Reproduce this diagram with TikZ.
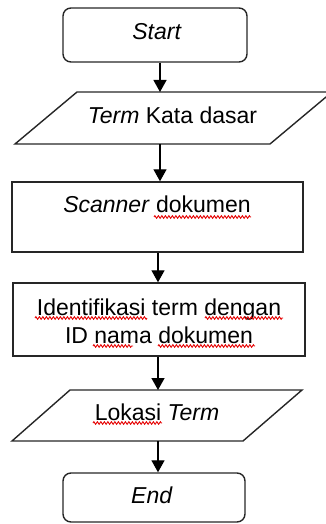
\documentclass[tikz,border=0pt]{standalone}
\usepackage{fontspec}
\setmainfont{Liberation Sans}
\usetikzlibrary{arrows.meta,decorations.pathmorphing}

\tikzset{
  shapeline/.style={draw=black!85, line width=1.4pt},
  termbox/.style={shapeline, rounded corners=8pt},
  procbox/.style={shapeline},
  io/.style={shapeline},
  label/.style={inner sep=0pt, font=\fontsize{23}{28}\selectfont, align=center},
  flow/.style={line width=1.3pt, -{Triangle[length=12pt,width=13pt]}},
  spell/.style={draw=red!90!black, line width=0.9pt,
    decorate, decoration={zigzag, segment length=3.5pt, amplitude=1.3pt}},
}

\begin{document}
\begin{tikzpicture}[x=1pt, y=-1pt]
\useasboundingbox (0,0) rectangle (326,524);
\clip (0,0) rectangle (326,524);

% terminators and process boxes
\node[termbox, minimum width=184pt, minimum height=54pt] (start) at (155,35) {};
\node[procbox, minimum width=291pt, minimum height=70pt] (scan) at (157.5,217) {};
\node[procbox, minimum width=292pt, minimum height=73pt] (ident) at (159,319.5) {};
\node[termbox, minimum width=182pt, minimum height=49pt] (end) at (154,497.5) {};

% input / output parallelograms
\draw[io] (15,144) -- (270,144) -- (332,92) -- (77,92) -- cycle;
\coordinate (in1n) at (160,92);
\coordinate (in1s) at (160,144);
\draw[io] (12,441) -- (243,441) -- (302,390) -- (70,390) -- cycle;
\coordinate (outn) at (158,390);
\coordinate (outs) at (158,441);

% texts
\node[label, anchor=base] (starttxt) at (157,40) {\textit{Start}};
\node[label, anchor=base] (in1txt) at (172.5,124) {\textit{Term} Kata dasar};
\node[label, anchor=base] (scantxt) at (157,212) {\textit{Scanner} dokumen};
\node[label] (identtxt) at (159,321.5) {Identifikasi term dengan\\ID nama dokumen};
\node[label, anchor=base] (outtxt) at (157,420) {Lokasi \textit{Term}};
\node[label, anchor=base] (endtxt) at (152,503) {\textit{End}};

% connectors
\draw[flow] (start.south -| in1n) -- (in1n);
\draw[flow] (in1s) -- (scan.north -| in1s);
\draw[flow] (scan.south -| outn) -- (ident.north -| outn);
\draw[flow] (ident.south -| outn) -- (outn);
\draw[flow] (outs) -- (end.north -| outs);

% spell-check marks under words
\draw[spell] (154,217) -- (251,217);
\draw[spell] (35,318) -- (147,318);
\draw[spell] (205,318) -- (283,318);
\draw[spell] (93,346) -- (133,346);
\draw[spell] (158,346) -- (255,346);
\draw[spell] (93,423) -- (162,423);
\end{tikzpicture}
\end{document}
